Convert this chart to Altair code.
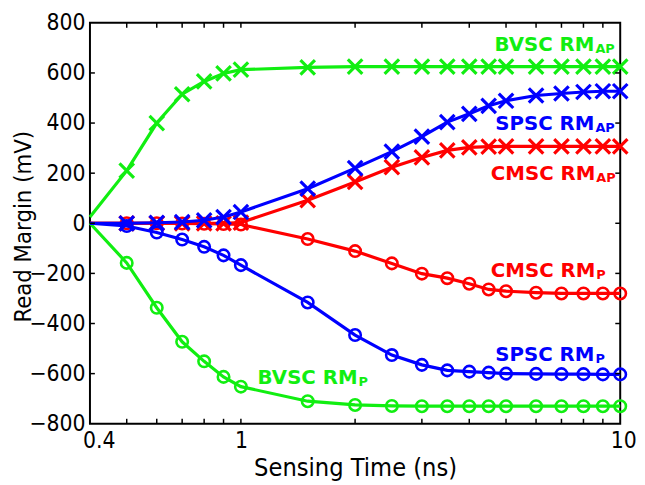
import altair as alt
import pandas as pd

# ---------------- data ----------------
sensing_time = [0.4, 0.5, 0.6, 0.7, 0.8, 0.9, 1.0, 1.5, 2.0, 2.5, 3.0, 3.5, 4.0, 4.5, 5.0, 6.0, 7.0, 8.0, 9.0, 10.0]

cmsc_ap = [0, 0, 0, 0, 0, 0, 3, 92, 165, 224, 263, 291, 303, 306, 307, 307, 307, 307, 307, 307]
cmsc_p = [0, 0, 0, -1, -2, -3, -5, -63, -111, -160, -201, -219, -241, -264, -271, -277, -280, -280, -280, -280]
bvsc_ap = [25, 210, 400, 515, 566, 598, 613, 622, 625, 625, 625, 625, 625, 625, 625, 625, 625, 625, 625, 625]
bvsc_p = [0, -158, -337, -473, -551, -613, -652, -710, -725, -729, -730, -730, -730, -730, -730, -730, -730, -730, -730, -730]
spsc_ap = [0, 0, 2, 5, 12, 25, 45, 138, 220, 286, 346, 404, 437, 469, 489, 510, 518, 524, 527, 527]
spsc_p = [0, -11, -37, -65, -94, -128, -167, -316, -446, -526, -565, -587, -592, -596, -600, -601, -602, -602, -603, -603]

series_names = ["CMSC RM_AP", "CMSC RM_P", "BVSC RM_AP", "BVSC RM_P", "SPSC RM_AP", "SPSC RM_P"]
series_values = [cmsc_ap, cmsc_p, bvsc_ap, bvsc_p, spsc_ap, spsc_p]
series_kind = ["AP", "P", "AP", "P", "AP", "P"]
series_colors = ["#ff0000", "#ff0000", "#11ee11", "#11ee11", "#0000ff", "#0000ff"]

# inline labels: main text, subscript, anchor (end of main text) in data coords
label_main = ["BVSC RM", "SPSC RM", "CMSC RM", "CMSC RM", "SPSC RM", "BVSC RM"]
label_sub = ["AP", "AP", "AP", "P", "P", "P"]
label_t = [8.55, 8.55, 8.6, 8.6, 8.55, 2.03]
label_v = [687, 372, 173, -216, -551, -640]
label_color = ["#11ee11", "#0000ff", "#ff0000", "#ff0000", "#0000ff", "#11ee11"]

x_tick_labels = [0.4, 1, 10]
x_minor_ticks = [0.5, 0.6, 0.7, 0.8, 0.9, 1, 2, 3, 4, 5, 6, 7, 8, 9]
y_tick_labels = [-800, -600, -400, -200, 0, 200, 400, 600, 800]
y_minor_ticks = [-600, -400, -200, 0, 200, 400, 600]

# ---------------- chart ----------------
W, H = 537, 406
AXIS_FONT = "DejaVu Sans Condensed"

xscale = alt.Scale(type="log", domain=[0.4, 10], nice=False)
yscale = alt.Scale(domain=[-800, 800], nice=False, zero=False)

X = alt.X(
    "t:Q",
    scale=xscale,
    axis=alt.Axis(
        values=x_tick_labels, format="~g", title="Sensing Time (ns)",
        ticks=False, domain=False, grid=False, labelPadding=6, labelFlush=False,
        labelFont=AXIS_FONT, labelFontSize=23, labelColor="black",
        titleFont=AXIS_FONT, titleFontSize=25.5, titleFontWeight="normal",
        titleColor="black", titlePadding=3, labelOverlap=False,
        labelOffset={"expr": "datum.value == 0.4 ? 9 : datum.value == 10 ? 3 : 0"},
    ),
)
Y = alt.Y(
    "v:Q",
    scale=yscale,
    axis=alt.Axis(
        values=y_tick_labels, title="Read Margin (mV)",
        ticks=False, domain=False, grid=False, labelPadding=5,
        labelFont=AXIS_FONT, labelFontSize=23, labelColor="black",
        titleFont=AXIS_FONT, titleFontSize=24, titleFontWeight="normal",
        titleColor="black", labelOverlap=False,
        titleX=-55, titleY=H / 2 + 3,
    ),
)

layers = []
for name, vals, kind, col in zip(series_names, series_values, series_kind, series_colors):
    df = pd.DataFrame({"t": sensing_time, "v": vals})
    line = alt.Chart(df).mark_line(color=col, strokeWidth=3.2).encode(x=X, y=Y)
    if kind == "AP":
        pts = alt.Chart(df).mark_point(
            shape="M-1,-1L1,1M-1,1L1,-1", filled=False, color=col,
            strokeWidth=3.2, size=215, opacity=1,
        )
    else:
        pts = alt.Chart(df).mark_point(
            shape="circle", filled=False, color=col,
            strokeWidth=2.6, size=135, opacity=1,
        )
    pts = pts.encode(x=X, y=Y).transform_filter("datum.t > 0.45")
    layers += [line, pts]

labels_df = pd.DataFrame({
    "t": label_t, "v": label_v, "main": label_main, "sub": label_sub, "c": label_color,
})
main_text = alt.Chart(labels_df).mark_text(
    align="right", baseline="alphabetic", font="DejaVu Sans", fontWeight="bold", fontSize=20,
).encode(x=X, y=Y, text="main:N", color=alt.Color("c:N", scale=None))
sub_text = alt.Chart(labels_df).mark_text(
    align="left", baseline="alphabetic", font="DejaVu Sans", fontWeight="bold", fontSize=13,
    dx=1, dy=2,
).encode(x=X, y=Y, text="sub:N", color=alt.Color("c:N", scale=None))
layers += [main_text, sub_text]

# inward ticks on all four sides
xt = pd.DataFrame({"t": x_minor_ticks})
yt = pd.DataFrame({"v": y_minor_ticks})
tick_len = 5
bottom_ticks = alt.Chart(xt).mark_rule(color="black", strokeWidth=1.5).encode(
    x=X, y=alt.value(H), y2=alt.value(H - tick_len))
top_ticks = alt.Chart(xt).mark_rule(color="black", strokeWidth=1.5).encode(
    x=X, y=alt.value(0), y2=alt.value(tick_len))
left_ticks = alt.Chart(yt).mark_rule(color="black", strokeWidth=1.5).encode(
    y=Y, x=alt.value(0), x2=alt.value(tick_len))
right_ticks = alt.Chart(yt).mark_rule(color="black", strokeWidth=1.5).encode(
    y=Y, x=alt.value(W), x2=alt.value(W - tick_len))
layers += [bottom_ticks, top_ticks, left_ticks, right_ticks]

chart = alt.layer(*layers).properties(
    width=W, height=H,
    autosize=alt.AutoSizeParams(type="none"),
    padding={"left": 83, "top": 12, "right": 17, "bottom": 58},
    background="white",
).configure_view(stroke="black", strokeWidth=2)

chart.save("out.html", embed_options={"renderer": "svg", "actions": False})
